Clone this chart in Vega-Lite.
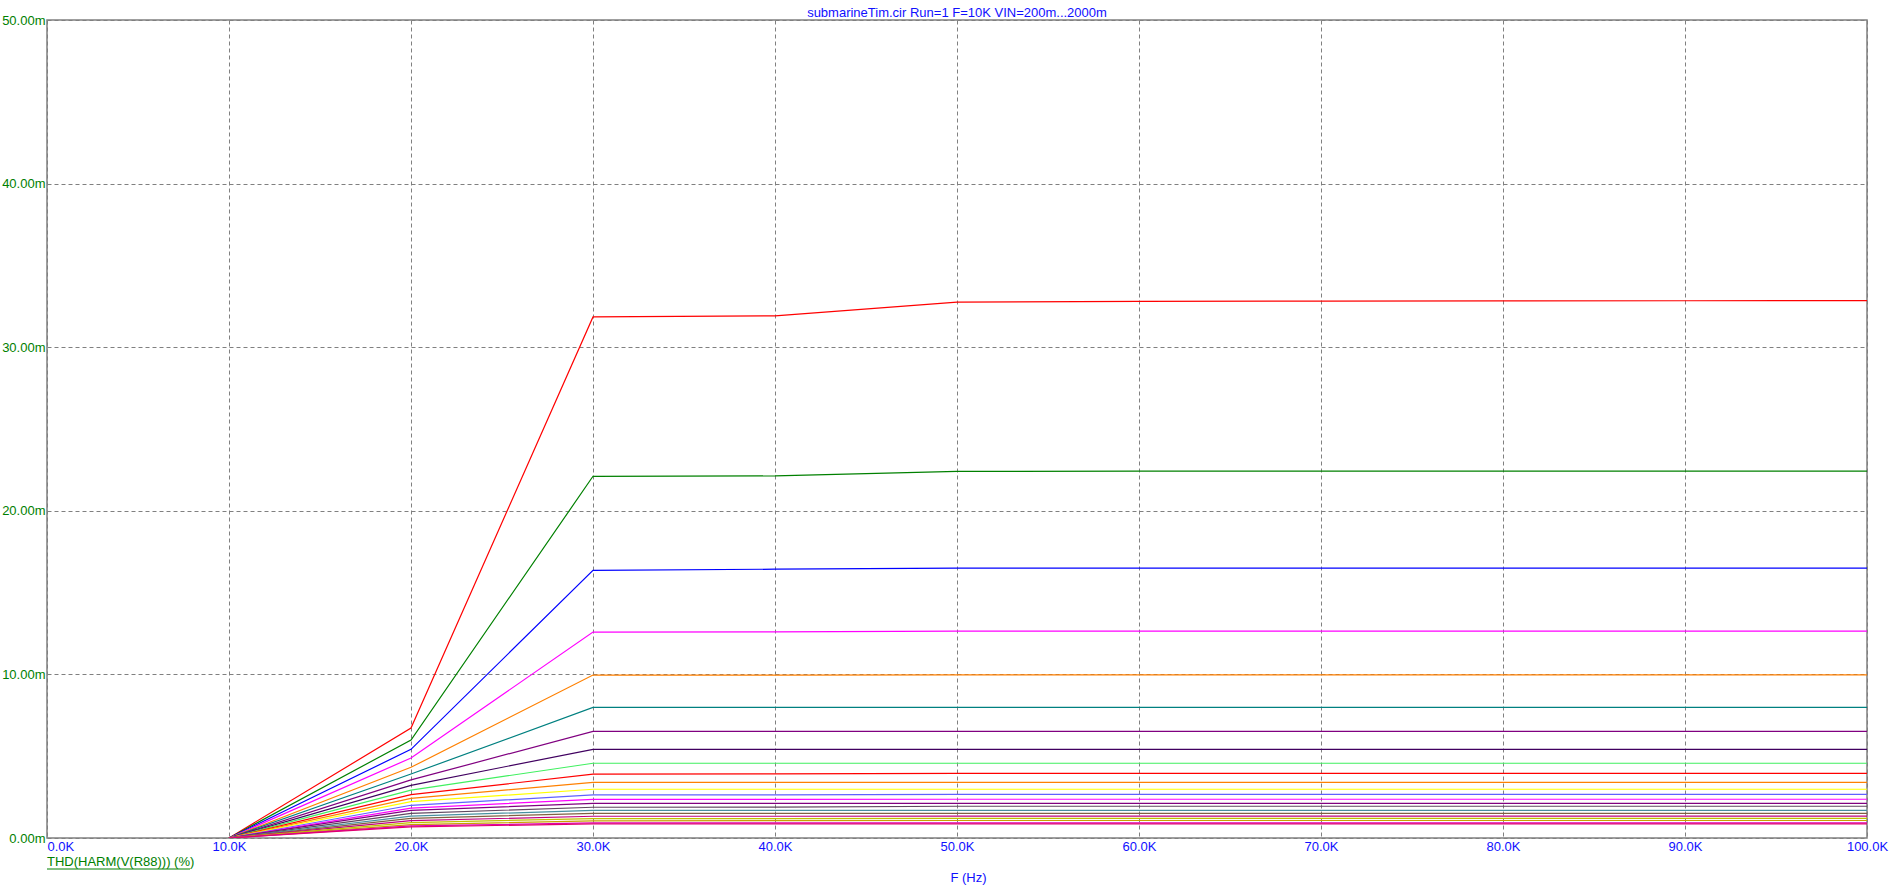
{
 "$schema": "https://vega.github.io/schema/vega-lite/v6.json",
 "width": 1820, "height": 818,
 "autosize": {"type": "none"},
 "padding": {"left": 47, "top": 20, "right": 33, "bottom": 53},
 "background": "white",
 "config": {"view": {"stroke": "#808080", "strokeWidth": 1.5}, "font": "Liberation Sans"},
 "title": {"text": "submarineTim.cir Run=1 F=10K VIN=200m...2000m", "color": "#1010FF", "fontSize": 13, "fontWeight": "normal", "font": "Liberation Sans", "anchor": "middle", "frame": "group", "offset": -6},
 "datasets": {
  "curves": [
   {"s":1,"f":10,"v":0},{"s":1,"f":20,"v":6.72},{"s":1,"f":30,"v":31.85},{"s":1,"f":40,"v":31.92},{"s":1,"f":50,"v":32.76},{"s":1,"f":60,"v":32.8},{"s":1,"f":70,"v":32.82},{"s":1,"f":80,"v":32.83},{"s":1,"f":90,"v":32.84},{"s":1,"f":100,"v":32.85},
   {"s":2,"f":10,"v":0},{"s":2,"f":20,"v":5.99},{"s":2,"f":30,"v":22.11},{"s":2,"f":40,"v":22.13},{"s":2,"f":50,"v":22.41},{"s":2,"f":60,"v":22.42},{"s":2,"f":70,"v":22.42},{"s":2,"f":80,"v":22.42},{"s":2,"f":90,"v":22.42},{"s":2,"f":100,"v":22.42},
   {"s":3,"f":10,"v":0},{"s":3,"f":20,"v":5.42},{"s":3,"f":30,"v":16.36},{"s":3,"f":40,"v":16.43},{"s":3,"f":50,"v":16.5},{"s":3,"f":60,"v":16.5},{"s":3,"f":70,"v":16.5},{"s":3,"f":80,"v":16.5},{"s":3,"f":90,"v":16.5},{"s":3,"f":100,"v":16.5},
   {"s":4,"f":10,"v":0},{"s":4,"f":20,"v":4.89},{"s":4,"f":30,"v":12.59},{"s":4,"f":40,"v":12.6},{"s":4,"f":50,"v":12.65},{"s":4,"f":60,"v":12.65},{"s":4,"f":70,"v":12.65},{"s":4,"f":80,"v":12.65},{"s":4,"f":90,"v":12.65},{"s":4,"f":100,"v":12.65},
   {"s":5,"f":10,"v":0},{"s":5,"f":20,"v":4.32},{"s":5,"f":30,"v":9.96},{"s":5,"f":40,"v":9.96},{"s":5,"f":50,"v":9.97},{"s":5,"f":60,"v":9.97},{"s":5,"f":70,"v":9.97},{"s":5,"f":80,"v":9.97},{"s":5,"f":90,"v":9.97},{"s":5,"f":100,"v":9.97},
   {"s":6,"f":10,"v":0},{"s":6,"f":20,"v":3.91},{"s":6,"f":30,"v":7.98},{"s":6,"f":40,"v":7.98},{"s":6,"f":50,"v":7.98},{"s":6,"f":60,"v":7.98},{"s":6,"f":70,"v":7.98},{"s":6,"f":80,"v":7.98},{"s":6,"f":90,"v":7.98},{"s":6,"f":100,"v":7.98},
   {"s":7,"f":10,"v":0},{"s":7,"f":20,"v":3.55},{"s":7,"f":30,"v":6.52},{"s":7,"f":40,"v":6.52},{"s":7,"f":50,"v":6.52},{"s":7,"f":60,"v":6.52},{"s":7,"f":70,"v":6.52},{"s":7,"f":80,"v":6.52},{"s":7,"f":90,"v":6.52},{"s":7,"f":100,"v":6.52},
   {"s":8,"f":10,"v":0},{"s":8,"f":20,"v":3.22},{"s":8,"f":30,"v":5.42},{"s":8,"f":40,"v":5.42},{"s":8,"f":50,"v":5.42},{"s":8,"f":60,"v":5.42},{"s":8,"f":70,"v":5.42},{"s":8,"f":80,"v":5.42},{"s":8,"f":90,"v":5.42},{"s":8,"f":100,"v":5.42},
   {"s":9,"f":10,"v":0},{"s":9,"f":20,"v":2.93},{"s":9,"f":30,"v":4.57},{"s":9,"f":40,"v":4.57},{"s":9,"f":50,"v":4.57},{"s":9,"f":60,"v":4.57},{"s":9,"f":70,"v":4.57},{"s":9,"f":80,"v":4.57},{"s":9,"f":90,"v":4.57},{"s":9,"f":100,"v":4.57},
   {"s":10,"f":10,"v":0},{"s":10,"f":20,"v":2.65},{"s":10,"f":30,"v":3.9},{"s":10,"f":40,"v":3.92},{"s":10,"f":50,"v":3.95},{"s":10,"f":60,"v":3.95},{"s":10,"f":70,"v":3.95},{"s":10,"f":80,"v":3.95},{"s":10,"f":90,"v":3.95},{"s":10,"f":100,"v":3.95},
   {"s":11,"f":10,"v":0},{"s":11,"f":20,"v":2.42},{"s":11,"f":30,"v":3.4},{"s":11,"f":40,"v":3.4},{"s":11,"f":50,"v":3.4},{"s":11,"f":60,"v":3.4},{"s":11,"f":70,"v":3.4},{"s":11,"f":80,"v":3.4},{"s":11,"f":90,"v":3.4},{"s":11,"f":100,"v":3.4},
   {"s":12,"f":10,"v":0},{"s":12,"f":20,"v":2.22},{"s":12,"f":30,"v":2.98},{"s":12,"f":40,"v":2.98},{"s":12,"f":50,"v":2.98},{"s":12,"f":60,"v":2.98},{"s":12,"f":70,"v":2.98},{"s":12,"f":80,"v":2.98},{"s":12,"f":90,"v":2.98},{"s":12,"f":100,"v":2.98},
   {"s":13,"f":10,"v":0},{"s":13,"f":20,"v":2.0},{"s":13,"f":30,"v":2.63},{"s":13,"f":40,"v":2.64},{"s":13,"f":50,"v":2.67},{"s":13,"f":60,"v":2.67},{"s":13,"f":70,"v":2.67},{"s":13,"f":80,"v":2.67},{"s":13,"f":90,"v":2.67},{"s":13,"f":100,"v":2.67},
   {"s":14,"f":10,"v":0},{"s":14,"f":20,"v":1.83},{"s":14,"f":30,"v":2.36},{"s":14,"f":40,"v":2.36},{"s":14,"f":50,"v":2.37},{"s":14,"f":60,"v":2.37},{"s":14,"f":70,"v":2.37},{"s":14,"f":80,"v":2.37},{"s":14,"f":90,"v":2.37},{"s":14,"f":100,"v":2.37},
   {"s":15,"f":10,"v":0},{"s":15,"f":20,"v":1.69},{"s":15,"f":30,"v":2.12},{"s":15,"f":40,"v":2.12},{"s":15,"f":50,"v":2.12},{"s":15,"f":60,"v":2.12},{"s":15,"f":70,"v":2.12},{"s":15,"f":80,"v":2.12},{"s":15,"f":90,"v":2.12},{"s":15,"f":100,"v":2.12},
   {"s":16,"f":10,"v":0},{"s":16,"f":20,"v":1.51},{"s":16,"f":30,"v":1.88},{"s":16,"f":40,"v":1.89},{"s":16,"f":50,"v":1.94},{"s":16,"f":60,"v":1.94},{"s":16,"f":70,"v":1.94},{"s":16,"f":80,"v":1.94},{"s":16,"f":90,"v":1.94},{"s":16,"f":100,"v":1.94},
   {"s":17,"f":10,"v":0},{"s":17,"f":20,"v":1.34},{"s":17,"f":30,"v":1.69},{"s":17,"f":40,"v":1.69},{"s":17,"f":50,"v":1.69},{"s":17,"f":60,"v":1.69},{"s":17,"f":70,"v":1.69},{"s":17,"f":80,"v":1.69},{"s":17,"f":90,"v":1.69},{"s":17,"f":100,"v":1.69},
   {"s":18,"f":10,"v":0},{"s":18,"f":20,"v":1.2},{"s":18,"f":30,"v":1.51},{"s":18,"f":40,"v":1.51},{"s":18,"f":50,"v":1.51},{"s":18,"f":60,"v":1.51},{"s":18,"f":70,"v":1.51},{"s":18,"f":80,"v":1.51},{"s":18,"f":90,"v":1.51},{"s":18,"f":100,"v":1.51},
   {"s":19,"f":10,"v":0},{"s":19,"f":20,"v":1.06},{"s":19,"f":30,"v":1.33},{"s":19,"f":40,"v":1.33},{"s":19,"f":50,"v":1.34},{"s":19,"f":60,"v":1.34},{"s":19,"f":70,"v":1.34},{"s":19,"f":80,"v":1.34},{"s":19,"f":90,"v":1.34},{"s":19,"f":100,"v":1.34},
   {"s":20,"f":10,"v":0},{"s":20,"f":20,"v":0.94},{"s":20,"f":30,"v":1.19},{"s":20,"f":40,"v":1.19},{"s":20,"f":50,"v":1.2},{"s":20,"f":60,"v":1.2},{"s":20,"f":70,"v":1.2},{"s":20,"f":80,"v":1.2},{"s":20,"f":90,"v":1.2},{"s":20,"f":100,"v":1.2},
   {"s":21,"f":10,"v":0},{"s":21,"f":20,"v":0.82},{"s":21,"f":30,"v":1.05},{"s":21,"f":40,"v":1.06},{"s":21,"f":50,"v":1.07},{"s":21,"f":60,"v":1.07},{"s":21,"f":70,"v":1.07},{"s":21,"f":80,"v":1.07},{"s":21,"f":90,"v":1.07},{"s":21,"f":100,"v":1.07},
   {"s":22,"f":10,"v":0},{"s":22,"f":20,"v":0.74},{"s":22,"f":30,"v":0.92},{"s":22,"f":40,"v":0.92},{"s":22,"f":50,"v":0.93},{"s":22,"f":60,"v":0.93},{"s":22,"f":70,"v":0.93},{"s":22,"f":80,"v":0.93},{"s":22,"f":90,"v":0.93},{"s":22,"f":100,"v":0.93},
   {"s":23,"f":10,"v":0},{"s":23,"f":20,"v":0.68},{"s":23,"f":30,"v":0.86},{"s":23,"f":40,"v":0.86},{"s":23,"f":50,"v":0.86},{"s":23,"f":60,"v":0.86},{"s":23,"f":70,"v":0.86},{"s":23,"f":80,"v":0.86},{"s":23,"f":90,"v":0.86},{"s":23,"f":100,"v":0.86}
  ]
 },
 "layer": [
  {
   "data": {"name": "curves"},
   "mark": {"type": "line", "strokeWidth": 1.2, "clip": true},
   "encoding": {
    "x": {"field": "f", "type": "quantitative",
     "scale": {"domain": [0, 100], "nice": false, "zero": false},
     "axis": {"values": [0,10,20,30,40,50,60,70,80,90,100],
      "labelExpr": "format(datum.value, '.1f') + 'K'",
      "labelColor": "#1010FF", "labelFontSize": 13, "labelFont": "Liberation Sans",
      "labelAlign": {"condition": {"test": "datum.value == 0", "value": "left"}, "value": "center"},
      "labelBaseline": "top", "labelPadding": 2, "labelFlush": false, "labelOverlap": false,
      "ticks": false, "domain": false,
      "grid": true, "gridColor": "#808080", "gridDash": [4, 3], "gridWidth": 1, "gridOpacity": 1,
      "title": "F (Hz)", "titleColor": "#1010FF", "titleFontSize": 13, "titleFontWeight": "normal", "titleFont": "Liberation Sans",
      "titleX": 921, "titleY": 39, "titleBaseline": "middle", "titleAlign": "center"}},
    "y": {"field": "v", "type": "quantitative",
     "scale": {"domain": [0, 50], "nice": false},
     "axis": {"values": [0,10,20,30,40,50],
      "labelExpr": "format(datum.value, '.2f') + 'm'",
      "labelColor": "#008000", "labelFontSize": 13, "labelFont": "Liberation Sans",
      "labelPadding": 2, "labelFlush": false, "labelOverlap": false, "labelBaseline": "middle",
      "ticks": false, "domain": false,
      "grid": true, "gridColor": "#808080", "gridDash": [4, 3], "gridWidth": 1, "gridOpacity": 1,
      "title": null}},
    "color": {"field": "s", "type": "nominal", "legend": null,
     "scale": {"domain": [1,2,3,4,5,6,7,8,9,10,11,12,13,14,15,16,17,18,19,20,21,22,23],
      "range": ["#FF0000","#008000","#0000FF","#FF00FF","#FF8000","#008080","#800080","#400060","#40F060","#FF0000","#FF8000","#FFFF00","#6060FF","#FF00FF","#800080","#604860","#4890A0","#806040","#C00080","#C0C000","#C8A000","#E000B0","#E00070"]}}
   }
  },
  {
   "data": {"values": [{"t": "THD(HARM(V(R88))) (%)"}]},
   "mark": {"type": "text", "align": "left", "baseline": "middle", "dy": 24, "color": "#008000", "fontSize": 13, "font": "Liberation Sans"},
   "encoding": {"x": {"datum": 0}, "y": {"datum": 0}, "text": {"field": "t"}}
  },
  {
   "data": {"values": [{"a": 0, "b": 7.86}]},
   "mark": {"type": "rule", "color": "#008000", "strokeWidth": 1, "yOffset": 31},
   "encoding": {"x": {"field": "a", "type": "quantitative"}, "x2": {"field": "b"}, "y": {"datum": 0}}
  }
 ]
}
